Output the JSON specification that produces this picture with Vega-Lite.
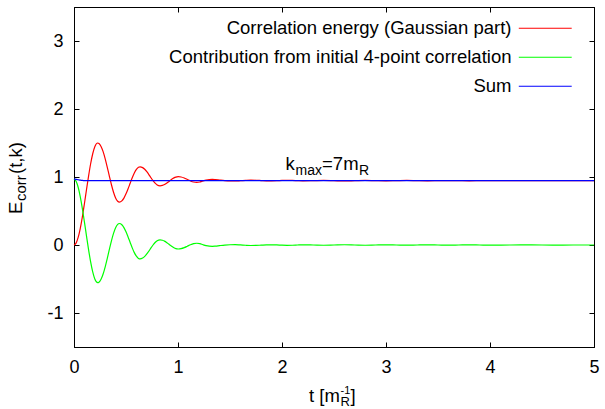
{
  "$schema": "https://vega.github.io/schema/vega-lite/v6.json",
  "width": 520,
  "height": 340,
  "autosize": {"type": "none"},
  "padding": {"left": 74, "top": 7, "right": 11, "bottom": 62},
  "background": "white",
  "config": {
    "font": "Liberation Sans",
    "view": {"stroke": "black", "strokeWidth": 1},
    "axis": {
      "grid": false,
      "domainColor": "black",
      "tickColor": "black",
      "labelColor": "black",
      "labelFontSize": 18,
      "labelFont": "Liberation Sans",
      "labelFlush": false,
      "labelOverlap": false,
      "tickSize": -5,
      "title": null
    },
    "text": {"font": "Liberation Sans", "color": "black"}
  },
  "resolve": {"axis": {"x": "independent", "y": "independent"}},
  "layer": [
    {
      "data": {
        "values": [
          {"t": 0, "r": 0, "g": 0.97, "b": 0.97},
          {"t": 0.02, "r": 0.028, "g": 0.937, "b": 0.965},
          {"t": 0.04, "r": 0.111, "g": 0.849, "b": 0.96},
          {"t": 0.06, "r": 0.242, "g": 0.713, "b": 0.955},
          {"t": 0.08, "r": 0.411, "g": 0.54, "b": 0.951},
          {"t": 0.1, "r": 0.607, "g": 0.341, "b": 0.948},
          {"t": 0.12, "r": 0.812, "g": 0.135, "b": 0.947},
          {"t": 0.14, "r": 1.013, "g": -0.067, "b": 0.946},
          {"t": 0.16, "r": 1.195, "g": -0.249, "b": 0.946},
          {"t": 0.18, "r": 1.342, "g": -0.396, "b": 0.946},
          {"t": 0.2, "r": 1.445, "g": -0.499, "b": 0.946},
          {"t": 0.228, "r": 1.5, "g": -0.554, "b": 0.946},
          {"t": 0.24, "r": 1.493, "g": -0.547, "b": 0.946},
          {"t": 0.26, "r": 1.45, "g": -0.504, "b": 0.946},
          {"t": 0.28, "r": 1.373, "g": -0.427, "b": 0.946},
          {"t": 0.3, "r": 1.267, "g": -0.321, "b": 0.946},
          {"t": 0.32, "r": 1.143, "g": -0.197, "b": 0.946},
          {"t": 0.34, "r": 1.012, "g": -0.066, "b": 0.946},
          {"t": 0.36, "r": 0.886, "g": 0.06, "b": 0.946},
          {"t": 0.38, "r": 0.776, "g": 0.17, "b": 0.946},
          {"t": 0.4, "r": 0.692, "g": 0.254, "b": 0.946},
          {"t": 0.42, "r": 0.643, "g": 0.303, "b": 0.946},
          {"t": 0.436, "r": 0.63, "g": 0.316, "b": 0.946},
          {"t": 0.46, "r": 0.648, "g": 0.298, "b": 0.946},
          {"t": 0.48, "r": 0.69, "g": 0.256, "b": 0.946},
          {"t": 0.5, "r": 0.752, "g": 0.194, "b": 0.946},
          {"t": 0.52, "r": 0.827, "g": 0.119, "b": 0.946},
          {"t": 0.54, "r": 0.908, "g": 0.038, "b": 0.946},
          {"t": 0.56, "r": 0.988, "g": -0.042, "b": 0.946},
          {"t": 0.58, "r": 1.058, "g": -0.112, "b": 0.946},
          {"t": 0.6, "r": 1.111, "g": -0.165, "b": 0.946},
          {"t": 0.62, "r": 1.143, "g": -0.197, "b": 0.946},
          {"t": 0.635, "r": 1.15, "g": -0.204, "b": 0.946},
          {"t": 0.66, "r": 1.138, "g": -0.192, "b": 0.946},
          {"t": 0.68, "r": 1.114, "g": -0.168, "b": 0.946},
          {"t": 0.7, "r": 1.078, "g": -0.132, "b": 0.946},
          {"t": 0.72, "r": 1.035, "g": -0.089, "b": 0.946},
          {"t": 0.74, "r": 0.989, "g": -0.043, "b": 0.946},
          {"t": 0.76, "r": 0.946, "g": 0.0, "b": 0.946},
          {"t": 0.78, "r": 0.909, "g": 0.037, "b": 0.946},
          {"t": 0.8, "r": 0.883, "g": 0.063, "b": 0.946},
          {"t": 0.827, "r": 0.87, "g": 0.076, "b": 0.946},
          {"t": 0.85, "r": 0.876, "g": 0.07, "b": 0.946},
          {"t": 0.87, "r": 0.889, "g": 0.057, "b": 0.946},
          {"t": 0.89, "r": 0.908, "g": 0.038, "b": 0.946},
          {"t": 0.91, "r": 0.931, "g": 0.015, "b": 0.946},
          {"t": 0.93, "r": 0.955, "g": -0.009, "b": 0.946},
          {"t": 0.95, "r": 0.977, "g": -0.031, "b": 0.946},
          {"t": 0.97, "r": 0.994, "g": -0.048, "b": 0.946},
          {"t": 0.99, "r": 1.003, "g": -0.057, "b": 0.946},
          {"t": 1.003, "r": 1.005, "g": -0.059, "b": 0.946},
          {"t": 1.03, "r": 1.0, "g": -0.054, "b": 0.946},
          {"t": 1.06, "r": 0.985, "g": -0.039, "b": 0.946},
          {"t": 1.09, "r": 0.964, "g": -0.018, "b": 0.946},
          {"t": 1.12, "r": 0.942, "g": 0.004, "b": 0.946},
          {"t": 1.15, "r": 0.926, "g": 0.02, "b": 0.946},
          {"t": 1.18, "r": 0.92, "g": 0.026, "b": 0.946},
          {"t": 1.21, "r": 0.927, "g": 0.019, "b": 0.946},
          {"t": 1.24, "r": 0.942, "g": 0.004, "b": 0.946},
          {"t": 1.27, "r": 0.955, "g": -0.009, "b": 0.946},
          {"t": 1.3, "r": 0.963, "g": -0.017, "b": 0.946},
          {"t": 1.33, "r": 0.965, "g": -0.019, "b": 0.946},
          {"t": 1.36, "r": 0.962, "g": -0.016, "b": 0.946},
          {"t": 1.4, "r": 0.955, "g": -0.009, "b": 0.946},
          {"t": 1.45, "r": 0.947, "g": -0.001, "b": 0.946},
          {"t": 1.5, "r": 0.942, "g": 0.004, "b": 0.946},
          {"t": 1.55, "r": 0.941, "g": 0.005, "b": 0.946},
          {"t": 1.6, "r": 0.945, "g": 0.001, "b": 0.946},
          {"t": 1.65, "r": 0.95, "g": -0.004, "b": 0.946},
          {"t": 1.7, "r": 0.953, "g": -0.007, "b": 0.946},
          {"t": 1.75, "r": 0.952, "g": -0.006, "b": 0.946},
          {"t": 1.8, "r": 0.948, "g": -0.002, "b": 0.946},
          {"t": 1.85, "r": 0.944, "g": 0.002, "b": 0.946},
          {"t": 1.9, "r": 0.943, "g": 0.003, "b": 0.946},
          {"t": 1.95, "r": 0.945, "g": 0.001, "b": 0.946},
          {"t": 2.0, "r": 0.949, "g": -0.003, "b": 0.946},
          {"t": 2.05, "r": 0.951, "g": -0.005, "b": 0.946},
          {"t": 2.1, "r": 0.95, "g": -0.004, "b": 0.946},
          {"t": 2.15, "r": 0.946, "g": 0.0, "b": 0.946},
          {"t": 2.2, "r": 0.943, "g": 0.003, "b": 0.946},
          {"t": 2.3, "r": 0.946, "g": 0.0, "b": 0.946},
          {"t": 2.4, "r": 0.95, "g": -0.004, "b": 0.946},
          {"t": 2.5, "r": 0.946, "g": 0.0, "b": 0.946},
          {"t": 2.6, "r": 0.942, "g": 0.004, "b": 0.946},
          {"t": 2.7, "r": 0.946, "g": 0.0, "b": 0.946},
          {"t": 2.8, "r": 0.95, "g": -0.004, "b": 0.946},
          {"t": 2.9, "r": 0.946, "g": 0.0, "b": 0.946},
          {"t": 3.0, "r": 0.943, "g": 0.003, "b": 0.946},
          {"t": 3.1, "r": 0.946, "g": 0.0, "b": 0.946},
          {"t": 3.2, "r": 0.949, "g": -0.003, "b": 0.946},
          {"t": 3.3, "r": 0.946, "g": 0.0, "b": 0.946},
          {"t": 3.4, "r": 0.944, "g": 0.002, "b": 0.946},
          {"t": 3.5, "r": 0.946, "g": 0.0, "b": 0.946},
          {"t": 3.6, "r": 0.948, "g": -0.002, "b": 0.946},
          {"t": 3.7, "r": 0.946, "g": 0.0, "b": 0.946},
          {"t": 3.8, "r": 0.944, "g": 0.002, "b": 0.946},
          {"t": 3.9, "r": 0.946, "g": 0.0, "b": 0.946},
          {"t": 4.0, "r": 0.948, "g": -0.002, "b": 0.946},
          {"t": 4.2, "r": 0.946, "g": 0.0, "b": 0.946},
          {"t": 4.4, "r": 0.945, "g": 0.001, "b": 0.946},
          {"t": 4.6, "r": 0.947, "g": -0.001, "b": 0.946},
          {"t": 4.8, "r": 0.946, "g": 0.0, "b": 0.946},
          {"t": 5.0, "r": 0.946, "g": 0.0, "b": 0.946}
        ]
      },
      "transform": [{"fold": ["r", "g", "b"], "as": ["s", "v"]}],
      "mark": {"type": "line", "strokeWidth": 1.2, "interpolate": "monotone"},
      "encoding": {
        "x": {
          "field": "t", "type": "quantitative",
          "scale": {"domain": [0, 5], "nice": false},
          "axis": {"orient": "bottom", "values": [0, 1, 2, 3, 4, 5], "labelPadding": 16, "labelExpr": "'' + datum.value"}
        },
        "y": {
          "field": "v", "type": "quantitative",
          "scale": {"domain": [-1.5, 3.5], "nice": false, "zero": false},
          "axis": {"orient": "left", "values": [-1, 0, 1, 2, 3], "labelPadding": 16, "labelExpr": "'' + datum.value"}
        },
        "color": {
          "field": "s", "type": "nominal",
          "scale": {"domain": ["r", "g", "b"], "range": ["#ff0000", "#00ff00", "#0000ff"]},
          "legend": {
            "title": null,
            "orient": "none",
            "legendX": 462,
            "legendY": 12,
            "direction": "vertical",
            "symbolType": "M-5,0H5",
            "symbolSize": 112,
            "symbolStrokeWidth": 1.2,
            "labelAlign": "right",
            "labelOffset": -43,
            "labelFontSize": 18.5,
            "labelFont": "Liberation Sans",
            "labelColor": "black",
            "labelLimit": 600,
            "rowPadding": 10,
            "labelExpr": "datum.label == 'r' ? 'Correlation energy (Gaussian part)' : datum.label == 'g' ? 'Contribution from initial 4-point correlation' : 'Sum'"
          }
        }
      }
    },
    {
      "data": {"values": [{}]},
      "mark": {"type": "rule", "opacity": 0},
      "encoding": {
        "x": {"datum": 0, "type": "quantitative", "axis": {"orient": "top", "labels": false, "values": [0, 1, 2, 3, 4, 5]}},
        "y": {"datum": 0, "type": "quantitative", "axis": {"orient": "right", "labels": false, "values": [-1, 0, 1, 2, 3]}}
      }
    },
    {
      "data": {"values": [{}]},
      "mark": {"type": "text", "text": "k", "align": "left", "baseline": "alphabetic", "fontSize": 18.5, "dx": 2},
      "encoding": {"x": {"datum": 2.015, "type": "quantitative", "axis": null}, "y": {"datum": 1.1, "type": "quantitative", "axis": null}}
    },
    {
      "data": {"values": [{}]},
      "mark": {"type": "text", "text": "max", "align": "left", "baseline": "alphabetic", "fontSize": 14, "dx": 12, "dy": 4.5},
      "encoding": {"x": {"datum": 2.015, "type": "quantitative", "axis": null}, "y": {"datum": 1.1, "type": "quantitative", "axis": null}}
    },
    {
      "data": {"values": [{}]},
      "mark": {"type": "text", "text": "=7m", "align": "left", "baseline": "alphabetic", "fontSize": 18.5, "dx": 38.5},
      "encoding": {"x": {"datum": 2.015, "type": "quantitative", "axis": null}, "y": {"datum": 1.1, "type": "quantitative", "axis": null}}
    },
    {
      "data": {"values": [{}]},
      "mark": {"type": "text", "text": "R", "align": "left", "baseline": "alphabetic", "fontSize": 14, "dx": 75.5, "dy": 4.5},
      "encoding": {"x": {"datum": 2.015, "type": "quantitative", "axis": null}, "y": {"datum": 1.1, "type": "quantitative", "axis": null}}
    },
    {
      "data": {"values": [{}]},
      "mark": {"type": "text", "text": "t [m", "align": "left", "baseline": "alphabetic", "fontSize": 18.5, "dy": 54.5},
      "encoding": {"x": {"datum": 2.26, "type": "quantitative", "axis": null}, "y": {"datum": -1.5, "type": "quantitative", "axis": null}}
    },
    {
      "data": {"values": [{}]},
      "mark": {"type": "text", "text": "-1", "align": "left", "baseline": "alphabetic", "fontSize": 11, "dx": 31.5, "dy": 46.5},
      "encoding": {"x": {"datum": 2.26, "type": "quantitative", "axis": null}, "y": {"datum": -1.5, "type": "quantitative", "axis": null}}
    },
    {
      "data": {"values": [{}]},
      "mark": {"type": "text", "text": "R", "align": "left", "baseline": "alphabetic", "fontSize": 13, "dx": 31.5, "dy": 59},
      "encoding": {"x": {"datum": 2.26, "type": "quantitative", "axis": null}, "y": {"datum": -1.5, "type": "quantitative", "axis": null}}
    },
    {
      "data": {"values": [{}]},
      "mark": {"type": "text", "text": "]", "align": "left", "baseline": "alphabetic", "fontSize": 18.5, "dx": 41.5, "dy": 54.5},
      "encoding": {"x": {"datum": 2.26, "type": "quantitative", "axis": null}, "y": {"datum": -1.5, "type": "quantitative", "axis": null}}
    },
    {
      "data": {"values": [{}]},
      "mark": {"type": "text", "text": "E", "align": "left", "baseline": "alphabetic", "fontSize": 18.5, "angle": 270, "dx": 0, "dy": -52.5},
      "encoding": {"x": {"datum": 0, "type": "quantitative", "axis": null}, "y": {"datum": 0.456, "type": "quantitative", "axis": null}}
    },
    {
      "data": {"values": [{}]},
      "mark": {"type": "text", "text": "corr", "align": "left", "baseline": "alphabetic", "fontSize": 15, "angle": 270, "dx": 13, "dy": -48.5},
      "encoding": {"x": {"datum": 0, "type": "quantitative", "axis": null}, "y": {"datum": 0.456, "type": "quantitative", "axis": null}}
    },
    {
      "data": {"values": [{}]},
      "mark": {"type": "text", "text": "(t,k)", "align": "left", "baseline": "alphabetic", "fontSize": 18.5, "angle": 270, "dx": 40, "dy": -52.5},
      "encoding": {"x": {"datum": 0, "type": "quantitative", "axis": null}, "y": {"datum": 0.456, "type": "quantitative", "axis": null}}
    }
  ]
}
